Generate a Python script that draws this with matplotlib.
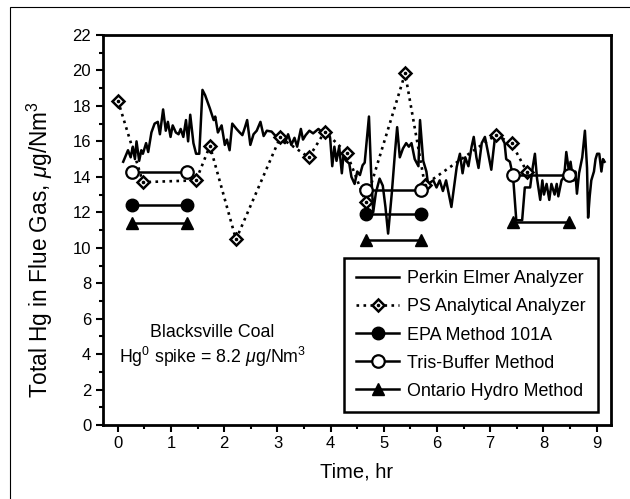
import matplotlib
matplotlib.use("Agg")
import matplotlib.pyplot as plt
from matplotlib.patches import Rectangle
from matplotlib.ticker import MultipleLocator

plt.rcParams['font.family'] = ['Liberation Sans', 'DejaVu Sans']
plt.rcParams['mathtext.fontset'] = 'custom'
plt.rcParams['mathtext.rm'] = 'Liberation Sans'
plt.rcParams['mathtext.it'] = 'Liberation Sans:italic'

# Perkin Elmer analyzer trace (hr, ug/Nm3)
pe_time = [0.10, 0.19, 0.24, 0.28, 0.32, 0.35, 0.40, 0.44, 0.47, 0.53, 0.57, 0.63,
           0.69, 0.75, 0.79, 0.85, 0.90, 0.94, 0.99, 1.03, 1.09, 1.14, 1.18, 1.23,
           1.28, 1.32, 1.36, 1.42, 1.47, 1.53, 1.59, 1.64, 1.73, 1.80, 1.83, 1.88,
           1.95, 2.01, 2.05, 2.10, 2.15, 2.23, 2.29, 2.34, 2.39, 2.43, 2.49, 2.55,
           2.61, 2.68, 2.74, 2.80, 2.89, 2.95, 3.03, 3.14, 3.20, 3.26, 3.32, 3.37,
           3.44, 3.48, 3.53, 3.60, 3.67, 3.77, 3.86, 3.93, 3.99, 4.03, 4.07, 4.11,
           4.16, 4.21, 4.24, 4.29, 4.35, 4.39, 4.45, 4.50, 4.55, 4.60, 4.64, 4.72,
           4.76, 4.80, 4.85, 4.92, 4.98, 5.03, 5.08, 5.15, 5.21, 5.25, 5.30, 5.36,
           5.42, 5.47, 5.52, 5.58, 5.65, 5.68, 5.74, 5.80, 5.83, 5.93, 5.99, 6.05,
           6.11, 6.17, 6.27, 6.37, 6.43, 6.48, 6.53, 6.59, 6.65, 6.69, 6.74, 6.78,
           6.84, 6.90, 6.95, 7.02, 7.09, 7.16, 7.21, 7.27, 7.30, 7.37, 7.43, 7.49,
           7.60, 7.65, 7.75, 7.80, 7.84, 7.88, 7.94, 7.98, 8.01, 8.06, 8.11, 8.15,
           8.21, 8.25, 8.28, 8.34, 8.39, 8.43, 8.48, 8.51, 8.54, 8.57, 8.60, 8.63,
           8.67, 8.73, 8.78, 8.82, 8.84, 8.87, 8.90, 8.95, 8.98, 9.01, 9.05, 9.09,
           9.12, 9.15]
pe_hg = [14.85, 15.5, 15.1, 15.7, 15.0, 16.0, 14.9, 15.5, 15.3, 15.9, 15.4, 16.5,
         17.0, 17.1, 16.4, 17.8, 16.6, 17.1, 16.25, 16.9, 16.5, 16.4, 16.7, 16.25,
         17.2, 16.0, 17.5, 15.9, 15.3, 15.3, 18.9, 18.6, 17.85, 17.2, 17.4, 16.5,
         16.9, 15.8, 16.1, 15.5, 17.0, 16.7, 16.5, 16.35, 16.8, 17.2, 15.8, 16.4,
         16.6, 17.1, 16.3, 16.6, 16.55, 16.35, 16.2, 15.9, 16.4, 15.8, 16.2, 15.7,
         16.7, 16.1, 16.35, 16.6, 16.45, 16.7, 16.45, 16.5, 16.2, 14.6, 15.7, 14.9,
         15.7, 14.2, 15.2, 14.9, 14.75, 14.0, 13.6, 14.3, 14.1, 14.65, 14.8, 17.4,
         14.3, 12.0, 13.1, 13.9, 13.5, 12.3, 10.8, 13.1, 15.4, 16.8, 15.1, 15.6,
         15.9, 15.7, 15.9, 15.0, 14.6, 17.2, 14.9, 14.3, 13.6, 13.8, 13.4, 13.8,
         13.2, 13.8, 12.3, 14.56, 15.3, 14.2, 15.1, 14.6, 15.7, 16.25, 15.1, 14.5,
         15.9, 16.25, 15.5, 14.4, 16.25, 16.5, 16.25, 15.9, 15.0, 14.85, 14.0, 11.55,
         11.55, 13.4, 13.4, 14.56, 15.3, 13.9, 12.7, 13.8, 13.0, 13.6, 12.7, 13.6,
         13.0, 13.6, 12.9, 13.8, 14.0, 15.4, 14.3, 14.85, 14.2, 13.8, 14.3, 13.05,
         14.2, 15.1, 16.6, 14.5, 11.7, 12.9, 13.8, 14.3, 15.0, 15.3, 15.3, 14.3,
         15.0, 14.85]

# PS Analytical analyzer
ps_time = [0.0, 0.47, 1.47, 1.73, 2.22, 3.05, 3.59, 3.89, 4.30, 4.66, 5.40, 5.77,
           7.10, 7.40, 7.69]
ps_hg = [18.3, 13.7, 13.8, 15.75, 10.47, 16.22, 15.1, 16.55, 15.35, 12.58, 19.83,
         13.55, 16.35, 15.9, 14.28]

# manual sampling methods: one [start, end] pair per run
epa_time = [[0.26, 1.29], [4.66, 5.70]]
epa_hg = [12.4, 11.9]
tris_time = [[0.26, 1.29], [4.66, 5.70], [7.43, 8.48]]
tris_hg = [14.28, 13.27, 14.12]
oh_time = [[0.26, 1.29], [4.66, 5.70], [7.43, 8.48]]
oh_hg = [11.38, 10.45, 11.45]

fig = plt.figure(figsize=(6.3, 4.99), dpi=100)
ax = fig.add_axes([0.1635, 0.148, 0.8063, 0.782])

# outer frame of the original figure (only top/left visible)
fig.add_artist(Rectangle((0.0155, -0.2), 1.3, 0.2 + 0.985, transform=fig.transFigure,
                         fill=False, edgecolor='black', linewidth=0.8))

h_pe, = ax.plot(pe_time, pe_hg, color='black', lw=1.8)
h_ps, = ax.plot(ps_time, ps_hg, color='black', lw=1.9, ls=':', marker='D', ms=6.2,
                mfc='white', mec='black', mew=1.8)
h_dot, = ax.plot(ps_time, ps_hg, ls='none', marker='o', ms=1.6, color='black')

for t, v in zip(epa_time, epa_hg):
    h_epa, = ax.plot(t, [v, v], color='black', lw=1.8, marker='o', ms=9,
                     mfc='black', mec='black')
for t, v in zip(tris_time, tris_hg):
    h_tris, = ax.plot(t, [v, v], color='black', lw=1.8, marker='o', ms=9,
                      mfc='white', mec='black', mew=1.6)
for t, v in zip(oh_time, oh_hg):
    h_oh, = ax.plot(t, [v, v], color='black', lw=1.8, marker='^', ms=9,
                    mfc='black', mec='black')

ax.set_xlim(-0.28, 9.27)
ax.set_ylim(0, 22)
ax.xaxis.set_major_locator(MultipleLocator(1))
ax.xaxis.set_minor_locator(MultipleLocator(0.5))
ax.yaxis.set_major_locator(MultipleLocator(2))
ax.yaxis.set_minor_locator(MultipleLocator(1))
ax.tick_params(which='both', direction='out', width=1.5, labelsize=12)
ax.tick_params(which='major', length=5)
ax.tick_params(which='minor', length=3)
ax.tick_params(axis='x', pad=3)
for s in ax.spines.values():
    s.set_linewidth(2)

ax.set_xlabel('Time, hr', fontsize=14.5, labelpad=8)
ax.set_ylabel(r'Total Hg in Flue Gas, $\mu$g/Nm$^3$', fontsize=16.3, labelpad=12.5)
ax.yaxis.label.set_y(0.45)

ax.text(1.78, 5.2, 'Blacksville Coal', ha='center', va='center', fontsize=12.8)
ax.text(1.78, 3.85, r'Hg$^0$ spike = 8.2 $\mu$g/Nm$^3$', ha='center', va='center',
        fontsize=12.8)

leg = ax.legend([h_pe, (h_ps, h_dot), h_epa, h_tris, h_oh],
                ['Perkin Elmer Analyzer', 'PS Analytical Analyzer', 'EPA Method 101A',
                 'Tris-Buffer Method', 'Ontario Hydro Method'],
                loc='lower right', bbox_to_anchor=(0.974, 0.033), borderaxespad=0,
                fontsize=12.9, handlelength=2.4, handletextpad=0.4,
                labelspacing=0.62, fancybox=False, framealpha=1,
                edgecolor='black', borderpad=0.7)
leg.get_frame().set_linewidth(1.8)

fig.savefig('out.png', dpi=100)
